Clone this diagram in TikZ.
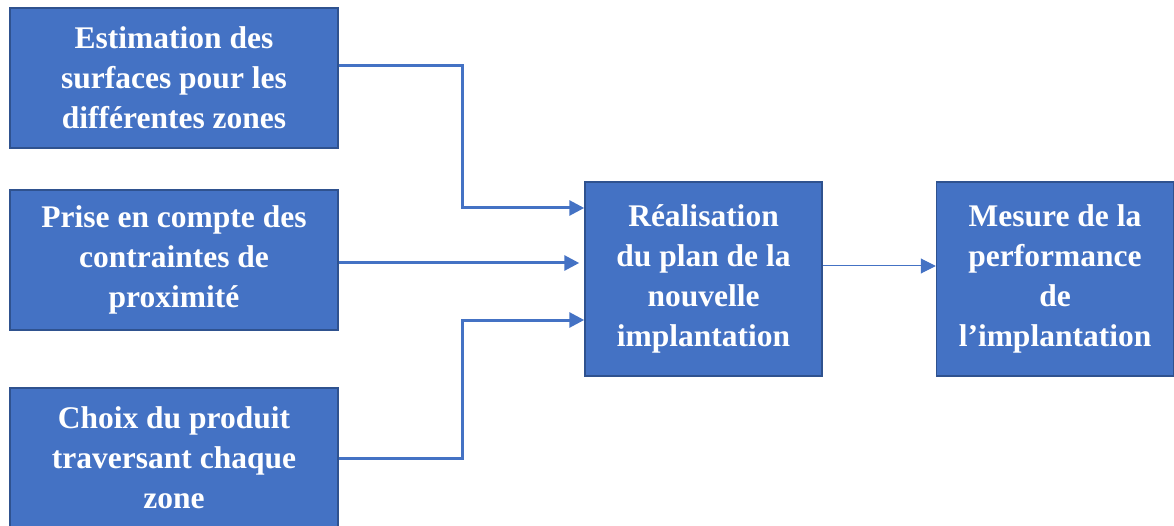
\documentclass[tikz,border=0pt]{standalone}
\usepackage{fontspec}
\setmainfont{Liberation Serif}
\usepackage{xcolor}
\usetikzlibrary{arrows.meta,positioning,calc}
\definecolor{boxblue}{HTML}{4472C4}
\definecolor{boxedge}{HTML}{2F528F}

\begin{document}
\begin{tikzpicture}[
  x=1pt, y=1pt,
  font=\fontsize{31.5}{40}\selectfont\bfseries,
  every node/.style={align=center},
  inbox/.style={rectangle, draw=boxedge, line width=1.5pt, fill=boxblue, text=white,
                minimum width=328pt, minimum height=140pt, inner sep=0pt},
  mainbox/.style={rectangle, draw=boxedge, line width=1.5pt, fill=boxblue, text=white,
                  minimum width=237pt, minimum height=194pt, inner sep=0pt},
  link/.style={draw=boxblue, line width=3pt, -{Triangle[length=15pt,width=15pt]}},
  thinlink/.style={draw=boxblue, line width=1pt, -{Triangle[length=15pt,width=15pt]}}
]
\useasboundingbox (0,0) rectangle (1174,-526);

% Inputs on the left
\node[inbox] (surf) at (174, -78)  {Estimation des\\surfaces pour les\\différentes zones};
\node[inbox] (prox) at (174, -260) {Prise en compte des\\contraintes de\\proximité};
\node[inbox] (prod) at (174, -458) {Choix du produit\\traversant chaque\\zone};

% Plan and measure
\node[mainbox] (plan) at (703.5, -279) {Réalisation\\du plan de la\\nouvelle\\implantation};
\node[mainbox] (perf) at (1055, -279)  {Mesure de la\\performance\\de\\l’implantation};

% Edges into the plan
\draw[link] ([yshift=12pt]surf.east) -| (462, -208) -- ([yshift=71pt]plan.west);
\draw[link] ([yshift=-3pt]prox.east) -- ([xshift=-5pt,yshift=16pt]plan.west);
\draw[link] (prod.east) -| (462, -320) -- ([yshift=-41pt]plan.west);

% Edge to the measure
\draw[thinlink] ([yshift=13pt]plan.east) -- ([yshift=13pt]perf.west);

\end{tikzpicture}
\end{document}
